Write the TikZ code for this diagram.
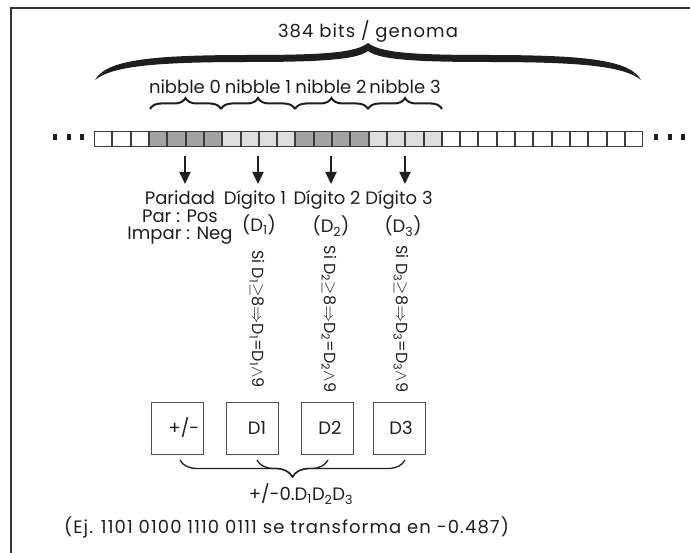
\documentclass[tikz,border=0pt]{standalone}
\usepackage{fontspec}
\setmainfont{Poppins}
\usetikzlibrary{decorations.pathreplacing,arrows.meta}
\definecolor{txt}{HTML}{1E1E1E}
\definecolor{darkcell}{HTML}{A3A3A3}
\definecolor{lightcell}{HTML}{DEDEDE}
\definecolor{cellline}{HTML}{3C3C3C}
\definecolor{boxline}{HTML}{505050}
\definecolor{framecol}{HTML}{333333}
\tikzset{
 lbl/.style={inner sep=0pt, text=txt, font=\fontsize{18}{17.5}\selectfont},
 vlbl/.style={inner sep=0pt, text=txt, rotate=-90, font=\fontsize{16}{17}\selectfont},
 wide/.style={font=\fontsize{18}{17.5}\selectfont\addfontfeatures{LetterSpace=6}},
 cellbox/.style={draw=cellline, line width=0.8pt, minimum width=17.3pt, minimum height=15.5pt, inner sep=0pt},
 dbox/.style={draw=boxline, line width=0.9pt, minimum width=52pt, minimum height=52pt, inner sep=0pt},
 arr/.style={line width=1.8pt, draw=txt, -{Triangle[length=12pt,width=11pt]}},
 smallbrace/.style={decorate, decoration={brace, amplitude=11pt}, line width=2pt, draw=txt},
 lowbrace/.style={decorate, decoration={brace, amplitude=17pt}, line width=1.3pt, draw=txt},
 dotmark/.style={fill=txt, minimum width=3.5pt, minimum height=6pt, inner sep=0pt}
}
\begin{document}
\begin{tikzpicture}[x=1pt,y=-1pt]
\useasboundingbox (0,0) rectangle (690,553);
% frame
\draw[line width=1.5pt, framecol] (11,553) -- (11,8) -- (690,8);
% title and big brace
\node[lbl, wide] (genoma) at (368,31) {384 bits / genoma};
\fill[txt] (95,80) .. controls (106,60) and (150,55) .. (250,55)
  .. controls (330,55) and (356,52) .. (368,43)
  .. controls (380,52) and (406,55) .. (486,55)
  .. controls (586,55) and (630,60) .. (641,80)
  .. controls (624,66) and (580,62) .. (486,62)
  .. controls (400,62) and (378,58) .. (368,51)
  .. controls (358,58) and (336,62) .. (250,62)
  .. controls (156,62) and (112,66) .. cycle;
% cells
\foreach \i in {0,...,29}{
  \pgfmathsetmacro{\cx}{94+18.3*\i+9.15}
  \ifnum\i<3 \def\cf{white}\else
  \ifnum\i<7 \def\cf{darkcell}\else
  \ifnum\i<11 \def\cf{lightcell}\else
  \ifnum\i<15 \def\cf{darkcell}\else
  \ifnum\i<19 \def\cf{lightcell}\else \def\cf{white}\fi\fi\fi\fi\fi
  \node[cellbox, fill=\cf] (c\i) at (\cx,139) {};
}
% dots
\node[dotmark] (ld1) at (55,137) {};
\node[dotmark] (ld2) at (69,137) {};
\node[dotmark] (ld3) at (82,137) {};
\node[dotmark] (rd1) at (656,137) {};
\node[dotmark] (rd2) at (670,137) {};
\node[dotmark] (rd3) at (683,137) {};
% nibble labels and braces
\node[lbl] (n0) at (185,87) {nibble 0};
\node[lbl] (n1) at (258,87) {nibble 1};
\node[lbl] (n2) at (331,87) {nibble 2};
\node[lbl] (n3) at (405,87) {nibble 3};
\coordinate (k0) at (150,109);
\coordinate (k1) at (221,109);
\coordinate (k2) at (295,109);
\coordinate (k3) at (368,109);
\coordinate (k4) at (442,109);
\draw[smallbrace] (k0) -- (k1);
\draw[smallbrace] (k1) -- (k2);
\draw[smallbrace] (k2) -- (k3);
\draw[smallbrace] (k3) -- (k4);
% arrows
\coordinate (a0) at (185,156); \coordinate (e0) at (185,184);
\coordinate (a1) at (258,156); \coordinate (e1) at (258,184);
\coordinate (a2) at (331,156); \coordinate (e2) at (331,184);
\coordinate (a3) at (405,156); \coordinate (e3) at (405,184);
\draw[arr] (a0) -- (e0);
\draw[arr] (a1) -- (e1);
\draw[arr] (a2) -- (e2);
\draw[arr] (a3) -- (e3);
% labels
\node[lbl, align=center] (par) at (180,218) {Paridad\\Par : Pos\\Impar : Neg};
\node[lbl] (dig1) at (255,200) {Dígito 1};
\node[lbl] (dig2) at (327,200) {Dígito 2};
\node[lbl] (dig3) at (399,200) {Dígito 3};
\node[lbl] (dd1) at (259,225) {(D\textsubscript{1})};
\node[lbl] (dd2) at (331,226) {(D\textsubscript{2})};
\node[lbl] (dd3) at (403,226) {(D\textsubscript{3})};
\node[vlbl] (r1) at (257,319) {Si D\textsubscript{1}$\geq$8$\Rightarrow$D\textsubscript{1}=D\textsubscript{1}$\wedge$9};
\node[vlbl] (r2) at (329,319) {Si D\textsubscript{2}$\geq$8$\Rightarrow$D\textsubscript{2}=D\textsubscript{2}$\wedge$9};
\node[vlbl] (r3) at (401,319) {Si D\textsubscript{3}$\geq$8$\Rightarrow$D\textsubscript{3}=D\textsubscript{3}$\wedge$9};
% boxes
\node[dbox] (b0) at (177.5,428) {};
\node[dbox] (b1) at (252,428) {};
\node[dbox] (b2) at (327,428) {};
\node[dbox] (b3) at (399,428) {};
\node[lbl] (t0) at (184,428) {+/-};
\node[lbl] (t1) at (257,428) {D1};
\node[lbl] (t2) at (330,428) {D2};
\node[lbl] (t3) at (401,428) {D3};
% lower braces
\coordinate (p0) at (180,460);
\coordinate (p1) at (257,460);
\coordinate (p2) at (328,460);
\coordinate (p3) at (405,460);
\draw[lowbrace] (p3) -- (p0);
\draw[lowbrace] (p2) -- (p1);
\node[lbl] (res) at (301,494) {+/-0.D\textsubscript{1}D\textsubscript{2}D\textsubscript{3}};
\node[lbl, wide, anchor=west] (ej) at (64,527) {(Ej. 1101 0100 1110 0111 se transforma en -0.487)};
\end{tikzpicture}
\end{document}
